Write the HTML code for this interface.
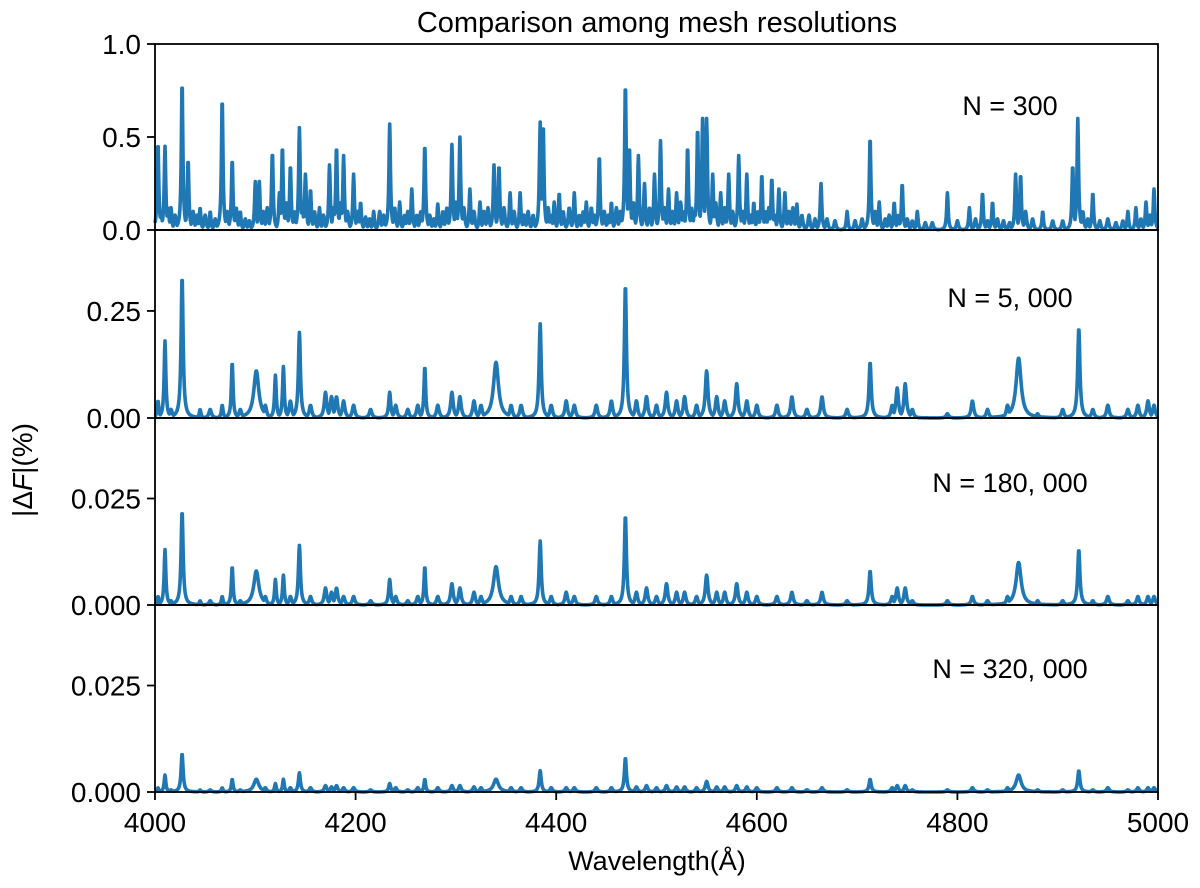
<!DOCTYPE html>
<html><head><meta charset="utf-8"><style>
body{margin:0;background:#fff}
svg text{font-family:"Liberation Sans","DejaVu Sans",sans-serif;fill:#000}
</style></head><body>
<svg id="chart" width="1200" height="888" xmlns="http://www.w3.org/2000/svg" style="position:absolute;left:0;top:0"></svg>
<script>
// ---- data ----
const xTicks = [4000,4200,4400,4600,4800,5000];
const panelLabels = ["N = 300","N = 5, 000","N = 180, 000","N = 320, 000"];
const panelYMax = [1.0,0.439,0.0439,0.0439];
const panelYTicks = [[0,0.5,1.0],[0,0.25],[0,0.025],[0,0.025]];
const panelYTickLabels = [["0.0","0.5","1.0"],["0.00","0.25"],["0.000","0.025"],["0.000","0.025"]];
// panel 1 (N=300) strong lines
const p1Wl = [4003,4010,4016,4027,4033,4045,4055,4067,4077,4085,4100,4104,4117,4124,4127,4135,4144,4150,4155,4164,4174,4181,4188,4198,4205,4218,4234,4244,4256,4269,4282,4296,4304,4314,4324,4338,4343,4354,4364,4384,4387,4398,4403,4418,4430,4443,4455,4469,4473,4482,4488,4498,4504,4512,4520,4531,4541,4546,4550,4556,4564,4572,4582,4590,4597,4605,4615,4622,4628,4640,4664,4690,4713,4722,4737,4745,4760,4790,4812,4825,4835,4858,4863,4885,4915,4920,4935,4970,4978,4988,4996];
const p1H = [0.47,0.45,0.12,0.8,0.38,0.12,0.1,0.71,0.38,0.1,0.26,0.26,0.42,0.2,0.45,0.35,0.55,0.3,0.22,0.12,0.35,0.45,0.4,0.3,0.15,0.1,0.57,0.15,0.22,0.46,0.14,0.46,0.5,0.22,0.15,0.35,0.35,0.2,0.2,0.58,0.57,0.15,0.2,0.2,0.15,0.4,0.15,0.79,0.45,0.4,0.25,0.3,0.48,0.22,0.2,0.45,0.55,0.6,0.6,0.3,0.2,0.3,0.4,0.3,0.15,0.3,0.28,0.22,0.2,0.14,0.25,0.1,0.5,0.15,0.15,0.25,0.1,0.2,0.12,0.2,0.15,0.3,0.3,0.1,0.35,0.6,0.2,0.1,0.12,0.15,0.22];
// panel 1 weak lines (dense forest)
const p1WeakWl = [4006,4013,4020,4038,4042,4050,4060,4072,4081,4090,4094,4108,4112,4131,4139,4147,4159,4168,4178,4185,4192,4202,4210,4214,4224,4228,4239,4249,4252,4261,4265,4274,4278,4287,4291,4300,4308,4318,4328,4332,4348,4358,4368,4372,4377,4392,4395,4407,4413,4423,4427,4435,4438,4448,4452,4460,4464,4477,4493,4508,4516,4524,4527,4535,4538,4559,4568,4576,4586,4594,4601,4609,4612,4618,4632,4636,4645,4652,4658,4670,4678,4698,4705,4718,4728,4732,4741,4750,4755,4768,4775,4800,4818,4830,4840,4846,4852,4868,4875,4895,4905,4925,4930,4942,4950,4958,4965,4983,4992];
const p1WeakH = [0.1,0.12,0.08,0.1,0.08,0.08,0.06,0.1,0.12,0.06,0.05,0.1,0.12,0.15,0.1,0.12,0.1,0.08,0.12,0.15,0.1,0.1,0.07,0.06,0.1,0.08,0.12,0.08,0.1,0.08,0.1,0.08,0.06,0.1,0.12,0.15,0.12,0.1,0.1,0.12,0.12,0.1,0.08,0.1,0.08,0.12,0.08,0.1,0.12,0.08,0.1,0.12,0.08,0.1,0.08,0.12,0.1,0.15,0.12,0.12,0.1,0.15,0.1,0.12,0.1,0.15,0.12,0.1,0.1,0.08,0.1,0.1,0.12,0.08,0.1,0.12,0.08,0.08,0.06,0.06,0.05,0.05,0.06,0.1,0.06,0.08,0.08,0.06,0.05,0.04,0.04,0.05,0.06,0.05,0.06,0.05,0.04,0.1,0.06,0.05,0.05,0.1,0.06,0.05,0.06,0.04,0.05,0.06,0.08];
// common lines for panels 2-4
const lineWl = [4003,4010,4027,4045,4067,4077,4101,4120,4128,4144,4170,4181,4234,4269,4296,4304,4340,4384,4410,4469,4490,4510,4550,4580,4635,4665,4713,4740,4748,4815,4861,4921,4950,4990];
const lineW = [1,1,1.2,1,1,1,3,1,1,1.2,1.5,1.5,1.2,1,1.5,1.5,3,1.2,1.5,1.2,1.5,1.5,1.5,1.5,1.5,1.5,1.3,1.5,1.5,1.5,3,1.3,1.5,1.5];
const p2H = [0.04,0.18,0.33,0.02,0.03,0.13,0.11,0.1,0.12,0.2,0.06,0.05,0.06,0.12,0.06,0.05,0.13,0.22,0.04,0.31,0.05,0.06,0.11,0.08,0.05,0.05,0.13,0.07,0.08,0.04,0.14,0.21,0.03,0.04];
const p3H = [0.002,0.013,0.022,0.001,0.002,0.009,0.008,0.006,0.007,0.014,0.004,0.004,0.006,0.009,0.005,0.004,0.009,0.015,0.003,0.021,0.004,0.005,0.007,0.005,0.003,0.003,0.008,0.004,0.004,0.002,0.010,0.013,0.002,0.002];
const p4H = [0.001,0.004,0.009,0.0005,0.001,0.003,0.003,0.002,0.003,0.0045,0.0015,0.0015,0.002,0.003,0.0015,0.0015,0.003,0.005,0.001,0.008,0.0015,0.0015,0.0025,0.0015,0.001,0.001,0.003,0.0015,0.0015,0.001,0.004,0.005,0.001,0.001];
// weak lines for panels 2-4
const weakWl = [4016,4055,4085,4110,4135,4155,4176,4188,4198,4215,4240,4252,4262,4282,4318,4325,4355,4365,4395,4418,4440,4455,4480,4500,4520,4528,4540,4560,4568,4590,4600,4620,4650,4690,4735,4755,4790,4830,4850,4880,4905,4935,4970,4980,4996];
const p2WeakH = [0.02,0.02,0.02,0.03,0.04,0.03,0.05,0.04,0.03,0.02,0.03,0.02,0.03,0.03,0.04,0.03,0.03,0.03,0.03,0.03,0.03,0.04,0.04,0.03,0.04,0.05,0.03,0.05,0.04,0.04,0.03,0.03,0.02,0.02,0.03,0.02,0.01,0.02,0.03,0.01,0.02,0.02,0.02,0.03,0.03];
const p3WeakH = [0.001,0.001,0.001,0.002,0.002,0.002,0.003,0.002,0.002,0.001,0.002,0.001,0.002,0.002,0.003,0.002,0.002,0.002,0.002,0.002,0.002,0.002,0.003,0.002,0.003,0.003,0.002,0.003,0.003,0.003,0.002,0.002,0.001,0.001,0.002,0.001,0.001,0.001,0.002,0.001,0.001,0.001,0.001,0.002,0.002];
const p4WeakH = [0.0005,0.0005,0.0005,0.001,0.001,0.001,0.0012,0.001,0.001,0.0005,0.001,0.0005,0.001,0.001,0.0012,0.001,0.001,0.001,0.001,0.001,0.001,0.001,0.0012,0.001,0.0012,0.0012,0.001,0.0012,0.0012,0.0012,0.001,0.001,0.0005,0.0005,0.001,0.0005,0.0005,0.0005,0.001,0.0005,0.0005,0.0005,0.0005,0.001,0.001];

// ---- layout ----
const L=155,R=1158;
const panelTop=[44,230,418,605], panelBot=[230,418,605,792];
const svg=document.getElementById('chart');
const NS="http://www.w3.org/2000/svg";
function el(t,a,p){const e=document.createElementNS(NS,t);for(const k in a)e.setAttribute(k,a[k]);(p||svg).appendChild(e);return e;}
const xs=w=>L+(w-4000)/1000*(R-L);

function spectrum(groups){
  const pts=[];
  for(let w=4000;w<=5000;w+=0.4){
    let v=0;
    groups.forEach(gr=>{
      const wls=gr[0],hs=gr[1],ws=gr[2];
      for(let i=0;i<wls.length;i++){const g=ws?ws[i]:gr[3];const d=(w-wls[i])/g;v=Math.max(v,hs[i]/(1+d*d));}
    });
    pts.push([w,v]);
  }
  return pts;
}
const sets=[
  [[p1Wl,p1H,null,0.9],[p1WeakWl,p1WeakH,null,1.2]],
  [[lineWl,p2H,lineW],[weakWl,p2WeakH,null,1.5]],
  [[lineWl,p3H,lineW],[weakWl,p3WeakH,null,1.5]],
  [[lineWl,p4H,lineW],[weakWl,p4WeakH,null,1.5]]
];
for(let p=0;p<4;p++){
  const top=panelTop[p],bot=panelBot[p];
  const ys=v=>bot-v/panelYMax[p]*(bot-top);
  const g=el('g',{});
  
  
  const pts=spectrum(sets[p]);
  const path=el('path',{d:'M'+pts.map(q=>xs(q[0]).toFixed(1)+','+Math.min(bot,ys(q[1])).toFixed(1)).join('L'),fill:'none',stroke:'#1f77b4','stroke-width':3.6,'stroke-linejoin':'round'},g);
  
  
  const fr=el('rect',{x:L,y:top,width:R-L,height:bot-top,fill:'none',stroke:'#000','stroke-width':1.8},g);
  
  
  panelYTicks[p].forEach((t,i)=>{
    const y=ys(t);
    el('line',{x1:L-8,x2:L,y1:y,y2:y,stroke:'#000','stroke-width':1.8},g);
    const tx=el('text',{x:L-14,y:y+10,'font-size':28,'text-anchor':'end'},g);
    tx.textContent=panelYTickLabels[p][i];
    
    
  });
  const lab=el('text',{x:1010,y:[115,307,492,678][p],'font-size':27,'text-anchor':'middle'},g);
  lab.textContent=panelLabels[p];
  
  
}
xTicks.forEach(t=>{
  const x=xs(t);
  el('line',{x1:x,x2:x,y1:792,y2:800,stroke:'#000','stroke-width':1.8});
  const tx=el('text',{x:x,y:832,'font-size':28,'text-anchor':'middle'});
  tx.textContent=t;
  
  
});
</script>
<svg style="position:absolute;left:0;top:0" width="1200" height="888" xmlns="http://www.w3.org/2000/svg">
<text x="657" y="32" font-size="29" text-anchor="middle" font-family="Liberation Sans, sans-serif">Comparison among mesh resolutions</text>
<text x="657" y="870" font-size="27" text-anchor="middle" font-family="Liberation Sans, sans-serif">Wavelength(Å)</text>
<text transform="translate(32,470) rotate(-90)" font-size="28" text-anchor="middle" font-family="Liberation Sans, sans-serif">|Δ<tspan font-style="italic">F</tspan>|(%)</text>
</svg>
</body></html>
